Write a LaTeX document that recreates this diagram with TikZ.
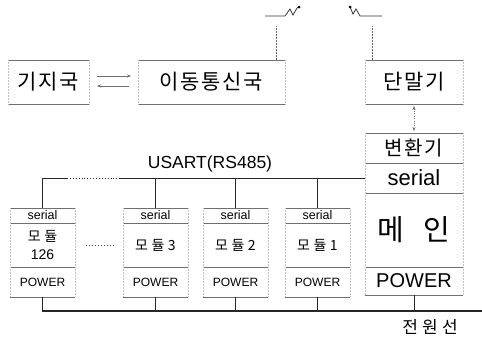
\documentclass[tikz,border=0pt]{standalone}
\usepackage{fontspec}
\setmainfont{Liberation Sans}
\newfontfamily\kr[LetterSpace=8]{Noto Sans CJK KR}
\newfontfamily\krw[LetterSpace=25]{Noto Sans CJK KR}
\usetikzlibrary{positioning,arrows.meta}
\definecolor{framegray}{RGB}{110,110,110}
\definecolor{sidegray}{RGB}{195,195,195}
\tikzset{
  hline/.style={draw=framegray, line width=0.6pt},
  vline/.style={draw=sidegray, densely dotted, line width=0.5pt},
  frame/.style={inner sep=0pt, outer sep=0pt, append after command={
    (\tikzlastnode.north west) edge[hline] (\tikzlastnode.north east)
    (\tikzlastnode.south west) edge[hline] (\tikzlastnode.south east)
    (\tikzlastnode.north west) edge[vline] (\tikzlastnode.south west)
    (\tikzlastnode.north east) edge[vline] (\tikzlastnode.south east)}},
  station/.style={frame, minimum height=44, font=\kr\fontsize{21}{23}\selectfont},
  modsec/.style={frame, minimum width=65},
  mainsec/.style={frame, minimum width=98},
  bus/.style={draw=black!85, line width=0.9pt},
  pwrline/.style={draw=black!85, line width=1.3pt},
}
\begin{document}
\begin{tikzpicture}[x=1pt, y=-1pt]
    \useasboundingbox (0,0) rectangle (482,338);

    % Stations
    \node[station, minimum width=81] (kiji) at (48.5,82) {기지국};
    \node[station, minimum width=147] (mob) at (211.5,82) {이동통신국};
    \node[station, minimum width=98] (dan) at (414,82) {단말기};

    % Link between stations
    \draw[framegray, -{Stealth[length=4pt]}] ([xshift=8,yshift=6]kiji.east) -- ([xshift=-7,yshift=6]mob.west);
    \draw[framegray, {Stealth[length=4pt]}-] ([xshift=8,yshift=-4]kiji.east) -- ([xshift=-9,yshift=-4]mob.west);

    % Antennas
    \coordinate (antL) at (276,26);
    \coordinate (antR) at (372,26);
    \draw[black!80, line width=0.8pt] (265,16) -- (285,16) -- (290,9) -- (293,15) -- (297,8) -- (299,7);
    \fill (299,7) circle (1.5);
    \draw[black!80, line width=0.8pt] (382,16) -- (360,16) -- (356,9) -- (353,14) -- (350,7);
    \fill (350,7) circle (1.5);
    \draw[vline, draw=black!60] (antL) -- (antL |- mob.north);
    \draw[vline, draw=black!60] (antR) -- (antR |- dan.north);

    % Main column
    \node[mainsec, minimum height=30, font=\kr\fontsize{20}{22}\selectfont] (byeon) at (414,148) {변환기};
    \node[mainsec, minimum height=30, below=0pt of byeon, font=\fontsize{22}{24}\selectfont] (serR) {serial};
    \node[mainsec, minimum height=74, below=0pt of serR, font=\kr\fontsize{29}{31}\selectfont] (mainb) {메\hspace{20pt}인};
    \node[mainsec, minimum height=28, below=0pt of mainb, font=\fontsize{20}{22}\selectfont] (mpow) {POWER};
    \draw[framegray, dotted, {Stealth[length=4pt]}-{Stealth[length=4pt]}] ([yshift=-2]dan.south) -- ([yshift=2]byeon.north);

    % Modules
    \foreach \n/\x/\t in {126/42.5/{{\krw 모듈}\\126}, 3/155.5/{\krw 모듈3}, 2/235.5/{\krw 모듈2}, 1/317.5/{\krw 모듈1}} {
        \node[modsec, minimum height=15, font=\fontsize{12.5}{14}\selectfont] (s\n) at (\x,215.5) {serial};
        \node[modsec, minimum height=44, below=0pt of s\n, align=center, font=\fontsize{14}{18}\selectfont] (b\n) {\t};
        \node[modsec, minimum height=30, below=0pt of b\n, font=\fontsize{12}{14}\selectfont] (p\n) {POWER};
    }
    \draw[black!70, dotted, line width=1pt] ([xshift=11]b126.east) -- ([xshift=-8]b3.west);

    % Serial bus
    \coordinate (busA) at (67,178);
    \coordinate (busB) at (120,178);
    \draw[bus] (s126.north) |- (busA);
    \draw[bus, dotted] (busA) -- (busB);
    \draw[bus] (busB) -- (serR.west);
    \foreach \n in {3,2,1}
        \draw[bus] (s\n.north) -- (s\n.north |- serR.west);
    \node (usart) at (210,164) {\fontsize{17.5}{19}\selectfont USART(RS485)};

    % Power line
    \coordinate (pwrR) at (482,311);
    \draw[pwrline] (p126.south) |- (pwrR);
    \foreach \n in {3,2,1}
        \draw[bus] (p\n.south) -- (p\n.south |- pwrR);
    \draw[bus] (mpow.south) -- (mpow.south |- pwrR);
    \node[font=\krw\fontsize{17}{19}\selectfont] (wire) at (430,327) {전원선};
\end{tikzpicture}
\end{document}
